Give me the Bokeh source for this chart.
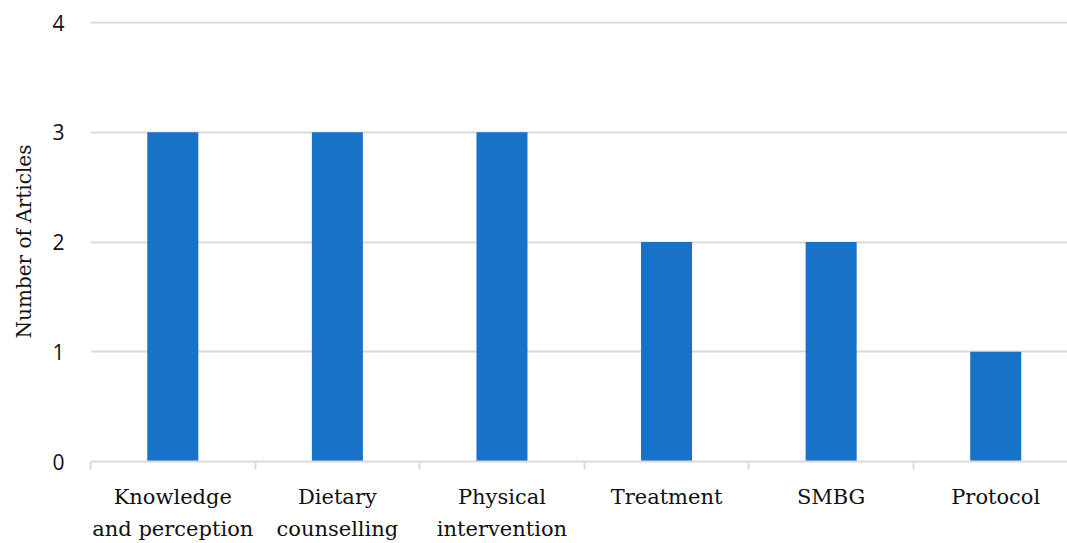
from bokeh.plotting import figure
from bokeh.models import FixedTicker, Range1d
from bokeh.embed import file_html
from bokeh.resources import INLINE

categories = ["Knowledge\nand perception", "Dietary\ncounselling", "Physical\nintervention",
              "Treatment", "SMBG", "Protocol"]
counts = [3, 3, 3, 2, 2, 1]
y_ticks = [0, 1, 2, 3, 4]

n = len(categories)
centers = [i + 0.5 for i in range(n)]
boundaries = list(range(n + 1))

p = figure(width=1067, height=543, output_backend="svg", toolbar_location=None,
           x_range=Range1d(0, 5.936), y_range=Range1d(0, 4.01),
           min_border_left=90, min_border_right=0, min_border_top=21, min_border_bottom=81)
p.outline_line_color = None
p.background_fill_color = "white"

p.vbar(x=centers, top=counts, width=0.31, bottom=0, fill_color="#1872C8", line_color=None)

# x axis
p.xaxis.ticker = FixedTicker(ticks=centers, minor_ticks=boundaries)
p.xaxis.major_label_overrides = {c: lab for c, lab in zip(centers, categories)}
p.xaxis.major_tick_line_color = None
p.xaxis.minor_tick_line_color = "#d9d9d9"
p.xaxis.minor_tick_line_width = 2
p.xaxis.minor_tick_out = 8
p.xaxis.minor_tick_in = 0
p.xaxis.axis_line_color = "#d9d9d9"
p.xaxis.axis_line_width = 2
p.xaxis.major_label_text_font = "DejaVu Serif"
p.xaxis.major_label_text_font_size = "21px"
p.xaxis.major_label_text_line_height = 1.35
p.xaxis.major_label_text_color = "#111111"
p.xaxis.major_label_standoff = 15
p.xgrid.grid_line_color = None

# y axis
p.yaxis.ticker = FixedTicker(ticks=y_ticks)
p.yaxis.axis_line_color = None
p.yaxis.major_tick_line_color = None
p.yaxis.minor_tick_line_color = None
p.yaxis.major_label_text_font = "Open Sans"
p.yaxis.major_label_text_font_size = "21px"
p.yaxis.major_label_text_color = "#111111"
p.yaxis.major_label_standoff = 20
p.yaxis.axis_label = "Number of Articles"
p.yaxis.axis_label_text_font = "DejaVu Serif"
p.yaxis.axis_label_text_font_style = "normal"
p.yaxis.axis_label_text_font_size = "20px"
p.yaxis.axis_label_text_color = "#111111"
p.yaxis.axis_label_standoff = 13
p.ygrid.grid_line_color = "#d9d9d9"
p.ygrid.grid_line_width = 2

open("out.html", "w").write(file_html(p, INLINE))
